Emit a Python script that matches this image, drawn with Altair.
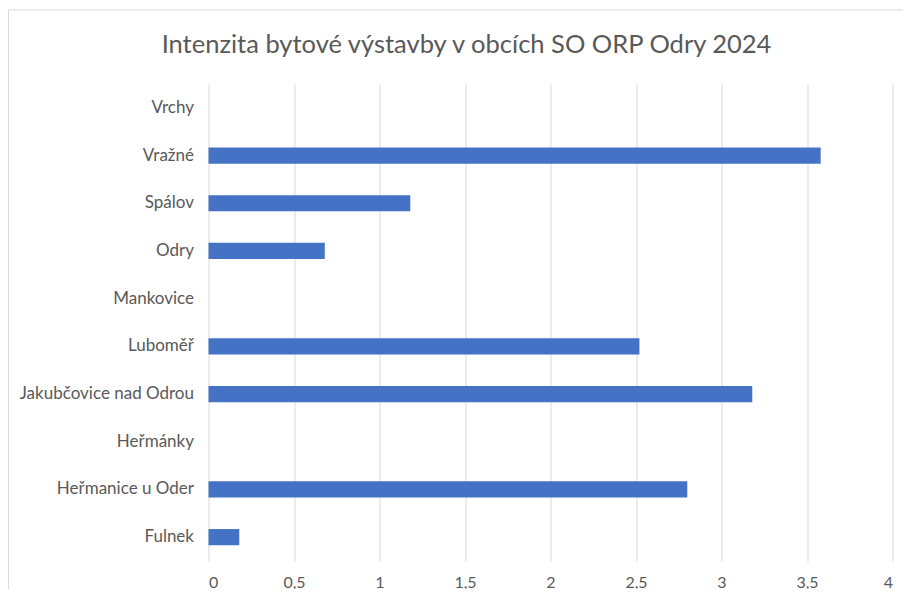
import altair as alt
import pandas as pd

categories = ["Vrchy", "Vražné", "Spálov", "Odry", "Mankovice", "Luboměř",
              "Jakubčovice nad Odrou", "Heřmánky", "Heřmanice u Oder", "Fulnek"]
values = [0, 3.58, 1.18, 0.68, 0, 2.52, 3.18, 0, 2.80, 0.18]
tick_values = [0, 0.5, 1, 1.5, 2, 2.5, 3, 3.5, 4]
title_text = "Intenzita bytové výstavby v obcích SO ORP Odry 2024"

df = pd.DataFrame({"obec": categories, "hodnota": values})

FONT = "Lato"
GREY = "#595959"

border = alt.Chart(alt.Data(values=[{}])).mark_rect(
    fill=None, stroke="#d9d9d9", strokeWidth=1, clip=False
).encode(
    x=alt.value(-200), x2=alt.value(1000),
    y=alt.value(-74), y2=alt.value(1000)
)

title = alt.Chart(alt.Data(values=[{"t": title_text}])).mark_text(
    font=FONT, fontSize=25.5, color=GREY, align="center", baseline="alphabetic",
    clip=False
).encode(
    text="t:N", x=alt.value(258), y=alt.value(-31)
)

bars = alt.Chart(df).mark_bar(color="#4472C4").encode(
    x=alt.X("hodnota:Q",
            scale=alt.Scale(domain=[0, 4], nice=False),
            axis=alt.Axis(values=tick_values, title=None, domain=False, ticks=False,
                          grid=True, gridColor="#d9d9d9", gridWidth=1,
                          labelExpr="replace(toString(datum.value), '.', ',')",
                          labelFont=FONT, labelFontSize=16, labelColor=GREY,
                          labelPadding=13)),
    y=alt.Y("obec:N", sort=categories,
            scale=alt.Scale(paddingInner=0.66, paddingOuter=0.33),
            axis=alt.Axis(title=None, domain=False, ticks=False, grid=False,
                          labelFont=FONT, labelFontSize=17, labelColor=GREY,
                          labelPadding=15))
)

chart = alt.layer(border, bars, title).properties(
    width=684, height=477,
    autosize=alt.AutoSizeParams(type="none"),
    padding={"left": 200.5, "top": 76, "right": 10, "bottom": 28}
).configure_view(stroke=None)

chart.save("out.html", embed_options={"renderer": "svg", "actions": False})
